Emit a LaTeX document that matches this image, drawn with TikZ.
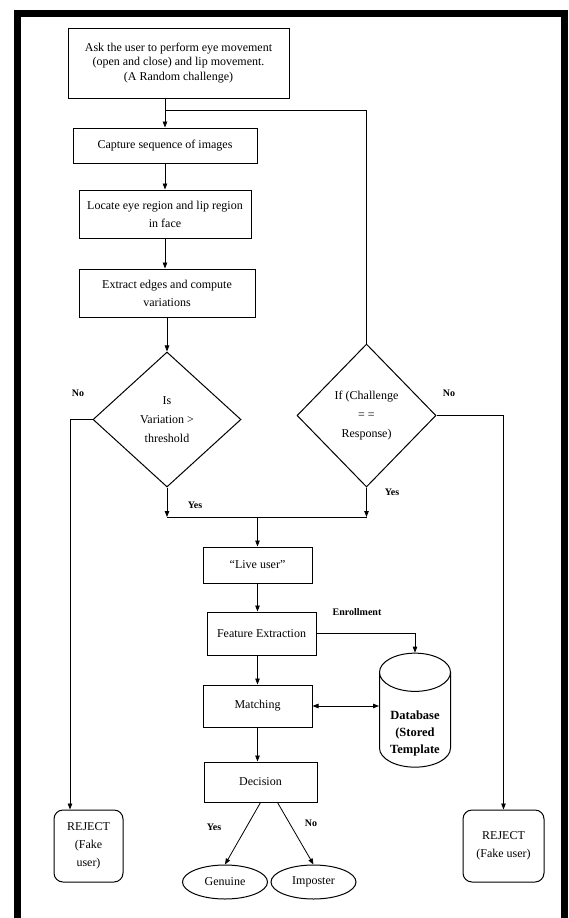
\documentclass[tikz,border=0pt]{standalone}
\usepackage{fontspec}
\setmainfont{Liberation Serif}
\usetikzlibrary{shapes.geometric,arrows.meta}

\begin{document}
\begin{tikzpicture}[x=1pt,y=-1pt,
    box/.style={draw, line width=1pt, align=center, inner sep=2pt, font=\fontsize{12}{18}\selectfont},
    decision/.style={diamond, draw, line width=1pt, align=center, inner sep=0pt, font=\fontsize{12}{19}\selectfont},
    reject/.style={draw, line width=1pt, rounded corners=9pt, align=center, minimum height=72pt, font=\fontsize{12}{18}\selectfont},
    result/.style={ellipse, draw, line width=1pt, inner sep=0pt, minimum width=85pt, minimum height=34pt, font=\fontsize{12}{14}\selectfont},
    db/.style={cylinder, shape border rotate=90, draw, line width=1pt, aspect=0.68, minimum width=71pt, minimum height=114pt, font=\bfseries\fontsize{12.5}{17}\selectfont},
    lbl/.style={font=\bfseries\fontsize{10}{11}\selectfont},
    arr/.style={-{Triangle[length=6pt,width=4.5pt]}, line width=0.8pt},
    line/.style={line width=0.8pt}]

    \useasboundingbox (0,0) rectangle (568,918);

    %% frame
    \draw[line width=7pt] (17.5,918) -- (17.5,13.5) -- (564,13.5) -- (564,918);

    %% left column
    \node[box, minimum width=221pt, minimum height=70pt, font=\fontsize{12}{14.2}\selectfont] (ask) at (178.5,63)
        {Ask the user to perform eye movement\\(open and close) and lip movement.\\(A Random challenge)};
    \node[box, minimum width=184pt, minimum height=35pt] (capture) at (165,145.5) {Capture sequence of images};
    \node[box, minimum width=172pt, minimum height=48pt] (locate)  at (165,214)   {Locate eye region and lip region\\in face};
    \node[box, minimum width=176pt, minimum height=48pt] (extract) at (167,293)   {Extract edges and compute\\variations};

    \coordinate (fork) at (165,110);
    \draw[arr] (capture.north |- ask.south) -- (capture.north);
    \draw[arr] (capture) -- (locate);
    \draw[arr] (locate.south) -- (locate.south |- extract.north);

    %% decisions
    \node[decision, minimum width=148pt, minimum height=135pt] (d1) at (167,419.5) {Is\\Variation >\\threshold};
    \node[decision, minimum width=139pt, minimum height=143pt] (d2) at (366.5,415.5) {If (Challenge\\= =\\Response)};

    \draw[arr] (extract) -- (d1);
    \draw[line] (fork) -| (d2.north);

    \node[lbl] (no1)  at (78,393)  {No};
    \node[lbl] (no2)  at (449,393) {No};
    \node[lbl] (yes1) at (195,505) {Yes};
    \node[lbl] (yes2) at (392,492) {Yes};

    % Yes branches
    \coordinate (join) at (257.5,517);
    \draw[arr] (d1.south) -- (d1.south |- join);
    \draw[arr] (d2.south) -- (d2.south |- join);
    \draw[line] (d1.south |- join) -- (d2.south |- join);

    %% middle column
    \node[box, minimum width=109pt, minimum height=36pt] (live)  at (257.5,565)   {``Live user''};
    \node[box, minimum width=109pt, minimum height=43pt] (fe)    at (261.5,633.5) {Feature Extraction};
    \node[box, minimum width=109pt, minimum height=42pt] (match) at (257.5,706)   {Matching};
    \node[box, minimum width=113pt, minimum height=40pt] (dec)   at (260.5,782)   {Decision};

    \draw[arr] (join) -- (live);
    \draw[arr] (live) -- (live |- fe.north);
    \draw[arr] (live |- fe.south) -- (match);
    \draw[arr] (match) -- (match |- dec.north);

    % Database
    \node[db] (db) at (415,724) {\raisebox{-12pt}[0pt][0pt]{\begin{tabular}{@{}c@{}}Database\\(Stored\\Template\end{tabular}}};
    \node[lbl] (enroll) at (357,612) {Enrollment};
    \draw[arr] (fe.east) -| (db.north);
    \draw[{Triangle[length=6pt,width=4.5pt]}-{Triangle[length=6pt,width=4.5pt]}, line width=0.8pt] (match.east) -- (match.east -| db.west);

    % Genuine / Imposter
    \node[result] (gen) at (225,882)   {Genuine};
    \node[result] (imp) at (313.5,882) {Imposter};
    \draw[arr] (dec.south) -- (gen.north);
    \draw[arr] ([xshift=17pt]dec.south) -- (imp.north);
    \node[lbl] (yes3) at (214,827) {Yes};
    \node[lbl] (no3)  at (311,823) {No};

    %% rejects
    \node[reject, minimum width=69pt] (rej1) at (88.5,846)  {REJECT\\(Fake\\user)};
    \node[reject, minimum width=81pt] (rej2) at (503.5,846) {REJECT\\(Fake user)};

    \coordinate (nol) at (70,419.5);
    \draw[arr] (d1.west) -- (nol) -- (nol |- rej1.north);
    \draw[arr] (d2.east) -| (rej2.north);

\end{tikzpicture}
\end{document}
